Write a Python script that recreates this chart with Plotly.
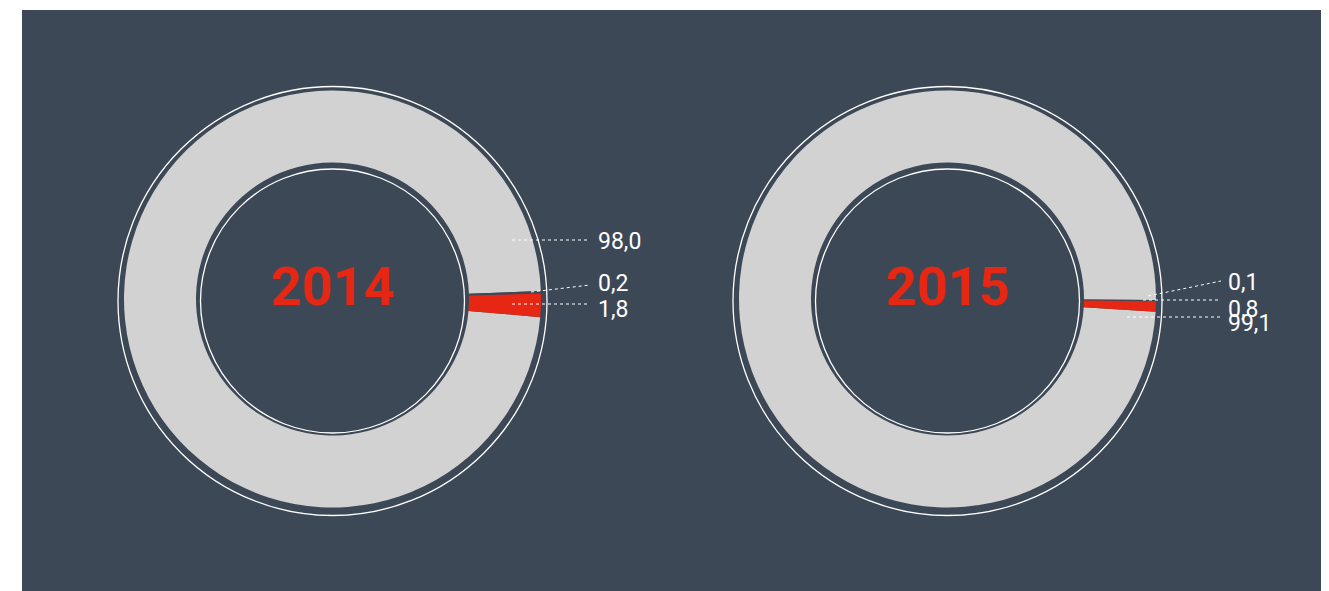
import plotly.graph_objects as go

# ---------------- data ----------------
years = ["2014", "2015"]
slice_names = ["a", "b", "c"]
values_2014 = [98.0, 0.2, 1.8]
values_2015 = [99.1, 0.1, 0.8]
label_text_2014 = ["98,0", "0,2", "1,8"]
label_text_2015 = ["99,1", "0,1", "0,8"]

# ---------------- style / layout ----------------
W, H = 1329, 591
BG = "#3d4857"
GREY = "#d2d2d2"
RED = "#e52713"
slice_colors = [GREY, BG, RED]

# pie geometry in pixels
pies = [
    dict(values=values_2014, labels=label_text_2014, year=years[0],
         cx=332.5, cy=299.0, r=208.5, hole_r=136.5, rotation=95.0,
         ring_cx=332.5, ring_cy=301.0, ring_out=214.5, ring_in=132.0,
         # leader lines: (x0, y0, x1, y1, text_y) in px
         leaders=[(512, 240, 590, 240, 241.5), (531, 292, 590, 285, 283), (512, 304, 590, 304, 309)],
         text_x=596),
    dict(values=values_2015, labels=label_text_2015, year=years[1],
         cx=947.5, cy=299.0, r=208.5, hole_r=136.5, rotation=93.5,
         ring_cx=947.5, ring_cy=301.0, ring_out=214.5, ring_in=132.0,
         leaders=[(1127, 317, 1221, 317, 323), (1148, 296, 1221, 281, 282), (1143, 300, 1221, 300, 309)],
         text_x=1226),
]

def px(x):
    return x / W

def py(y):
    return 1 - y / H

fig = go.Figure()
shapes = []
annotations = []

# panel background
shapes.append(dict(type="rect", xref="paper", yref="paper", x0=px(22), x1=px(1321), y0=0, y1=py(10),
                   fillcolor=BG, line=dict(width=0), layer="below"))

for p in pies:
    fig.add_trace(go.Pie(
        values=p["values"], labels=slice_names, sort=False, direction="clockwise",
        rotation=p["rotation"], hole=p["hole_r"] / p["r"],
        marker=dict(colors=slice_colors, line=dict(width=0)),
        textinfo="none", hoverinfo="skip", showlegend=False,
        domain=dict(x=[px(p["cx"] - p["r"]), px(p["cx"] + p["r"])],
                    y=[py(p["cy"] + p["r"]), py(p["cy"] - p["r"])]),
    ))
    # decorative white rings
    for rr in (p["ring_out"], p["ring_in"]):
        shapes.append(dict(type="circle", xref="paper", yref="paper",
                           x0=px(p["ring_cx"] - rr), x1=px(p["ring_cx"] + rr),
                           y0=py(p["ring_cy"] + rr), y1=py(p["ring_cy"] - rr),
                           line=dict(color="white", width=1.3), layer="above"))
    # year
    annotations.append(dict(text=p["year"], xref="paper", yref="paper", x=px(p["cx"]), y=py(287),
                            showarrow=False, xanchor="center", yanchor="middle",
                            font=dict(family="Roboto", size=54, color=RED, weight="bold")))
    # labels + leaders
    for lab, (x0, y0, x1, y1, ty) in zip(p["labels"], p["leaders"]):
        shapes.append(dict(type="line", xref="paper", yref="paper", x0=px(x0), y0=py(y0), x1=px(x1), y1=py(y1),
                           line=dict(color="white", width=1, dash="dot"), layer="above"))
        annotations.append(dict(text=lab, xref="paper", yref="paper", x=px(p["text_x"]), y=py(ty),
                                showarrow=False, xanchor="left", yanchor="middle",
                                font=dict(family="Roboto", size=23, color="white")))

fig.update_layout(
    width=W, height=H, margin=dict(l=0, r=0, t=0, b=0),
    paper_bgcolor="white", plot_bgcolor="white",
    shapes=shapes, annotations=annotations, showlegend=False,
)

fig.write_html("out.html")
